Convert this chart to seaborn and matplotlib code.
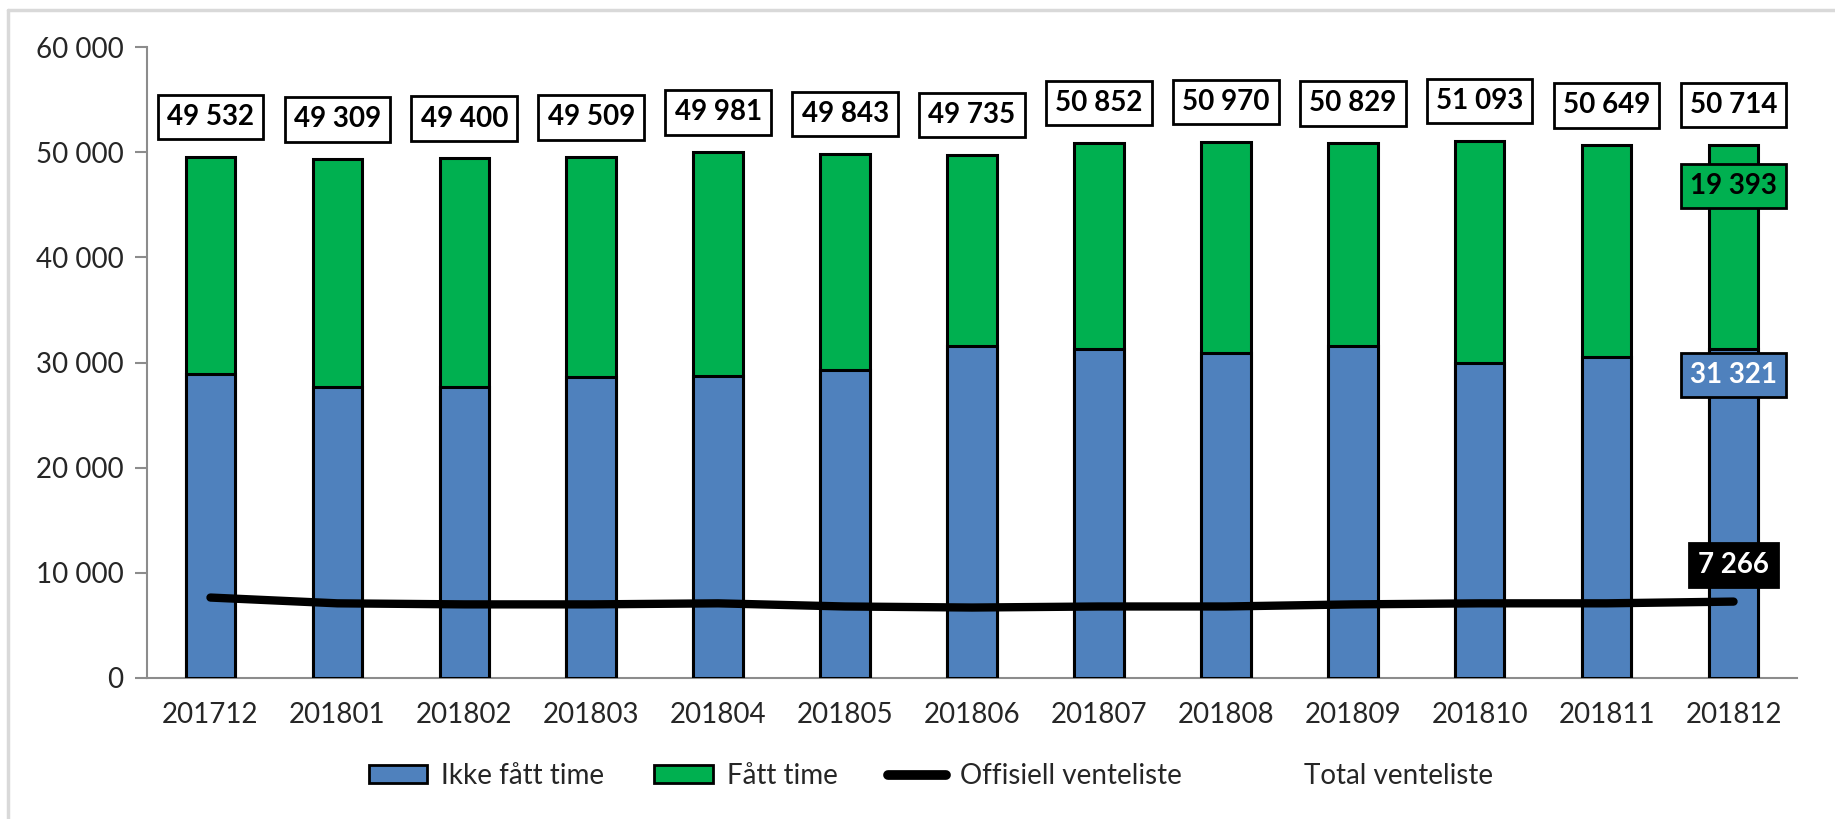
import numpy as np
import pandas as pd
import seaborn as sns
import matplotlib
matplotlib.use("Agg")
import matplotlib.pyplot as plt
from matplotlib.patches import Patch
from matplotlib.lines import Line2D

# Waiting list per month
months = ["201712", "201801", "201802", "201803", "201804", "201805", "201806",
          "201807", "201808", "201809", "201810", "201811", "201812"]
total = [49532, 49309, 49400, 49509, 49981, 49843, 49735,
         50852, 50970, 50829, 51093, 50649, 50714]
ikke_fatt = [28900, 27650, 27650, 28650, 28750, 29300, 31550,
             31300, 30900, 31550, 30000, 30550, 31321]
offisiell = [7650, 7100, 7000, 7000, 7100, 6800, 6700,
             6800, 6800, 7000, 7100, 7100, 7266]

fatt = [t - i for t, i in zip(total, ikke_fatt)]

BLUE = "#4f81bd"
GREEN = "#00b050"
FONT = "Lato"
FS = 20

df = pd.DataFrame({"month": months, "total": total, "ikke": ikke_fatt,
                   "fatt": fatt, "off": offisiell})
df["pos"] = np.arange(len(df))

sns.set_theme(style="white")
plt.rcParams["font.family"] = [FONT, "DejaVu Sans"]

fig = plt.figure(figsize=(18.35, 8.19), dpi=100)
ax = fig.add_axes([147 / 1835, 1 - 678 / 819, (1797 - 147) / 1835, (678 - 47) / 819])

bw = 0.39
# stacked bars: full total (green) then the lower part (blue) on top of it
sns.barplot(data=df, x="month", y="total", color=GREEN, saturation=1, width=bw,
            edgecolor="black", linewidth=2.2, ax=ax, zorder=2)
sns.barplot(data=df, x="month", y="ikke", color=BLUE, saturation=1, width=bw,
            edgecolor="black", linewidth=2.2, ax=ax, zorder=3)
sns.lineplot(data=df, x="pos", y="off", color="black", linewidth=6,
             solid_capstyle="round", ax=ax, zorder=4)

ax.set_ylim(0, 60000)
ax.set_xlim(-0.5, len(months) - 0.5)
ax.set_xlabel("")
ax.set_ylabel("")


def fmt(v):
    return f"{v:,}".replace(",", " ")


yticks = np.arange(0, 60001, 10000)
ax.set_yticks(yticks)
ax.set_yticklabels([fmt(int(v)) for v in yticks], fontsize=FS, color="#262626")
ax.set_xticks(np.arange(len(months)))
ax.set_xticklabels(months, fontsize=FS, color="#262626")
ax.set_xticks(np.arange(len(months) + 1) - 0.5, minor=True)
ax.tick_params(axis="x", which="major", length=0, pad=17)
ax.tick_params(axis="x", which="minor", length=8, width=1.5, color="#8c8c8c", direction="out")
ax.tick_params(axis="y", which="major", length=9, width=1.5, color="#8c8c8c",
               direction="out", left=True, pad=8)

for side in ["top", "right"]:
    ax.spines[side].set_visible(False)
for side in ["left", "bottom"]:
    ax.spines[side].set_color("#8c8c8c")
    ax.spines[side].set_linewidth(1.5)

box_kw = dict(ha="center", va="center", fontsize=FS, fontweight="bold", zorder=6)
for i, t in enumerate(total):
    ax.text(i, t + 3800, fmt(t), color="black",
            bbox=dict(boxstyle="square,pad=0.33", fc="white", ec="black", lw=2), **box_kw)

last = len(months) - 1
ax.text(last, total[last] - 3900, fmt(fatt[last]), color="black",
        bbox=dict(boxstyle="square,pad=0.33", fc=GREEN, ec="black", lw=2), **box_kw)
ax.text(last, ikke_fatt[last] - 2500, fmt(ikke_fatt[last]), color="white",
        bbox=dict(boxstyle="square,pad=0.33", fc=BLUE, ec="black", lw=2), **box_kw)
ax.text(last, offisiell[last] + 3500, fmt(offisiell[last]), color="white",
        bbox=dict(boxstyle="square,pad=0.33", fc="black", ec="black", lw=2), **box_kw)

handles = [
    Patch(facecolor=BLUE, edgecolor="black", linewidth=2),
    Patch(facecolor=GREEN, edgecolor="black", linewidth=2),
    Line2D([0], [0], color="black", linewidth=7, solid_capstyle="round"),
    Line2D([0], [0], color="none"),
]
labels = ["Ikke fått time", "Fått time", "Offisiell venteliste", "Total venteliste"]
fig.legend(handles, labels, loc="center", bbox_to_anchor=(931 / 1835, 1 - 776 / 819),
           ncol=4, frameon=False, fontsize=FS, handlelength=2.1, handleheight=0.6,
           handletextpad=0.5, columnspacing=1.8)

# light frame around the chart area
fig.add_artist(Line2D([8 / 1835, 1], [1 - 10 / 819, 1 - 10 / 819], color="#d9d9d9",
                      linewidth=2.5, transform=fig.transFigure))
fig.add_artist(Line2D([8 / 1835, 8 / 1835], [0, 1 - 10 / 819], color="#d9d9d9",
                      linewidth=2.5, transform=fig.transFigure))

fig.savefig("out.png", dpi=100, facecolor="white")
